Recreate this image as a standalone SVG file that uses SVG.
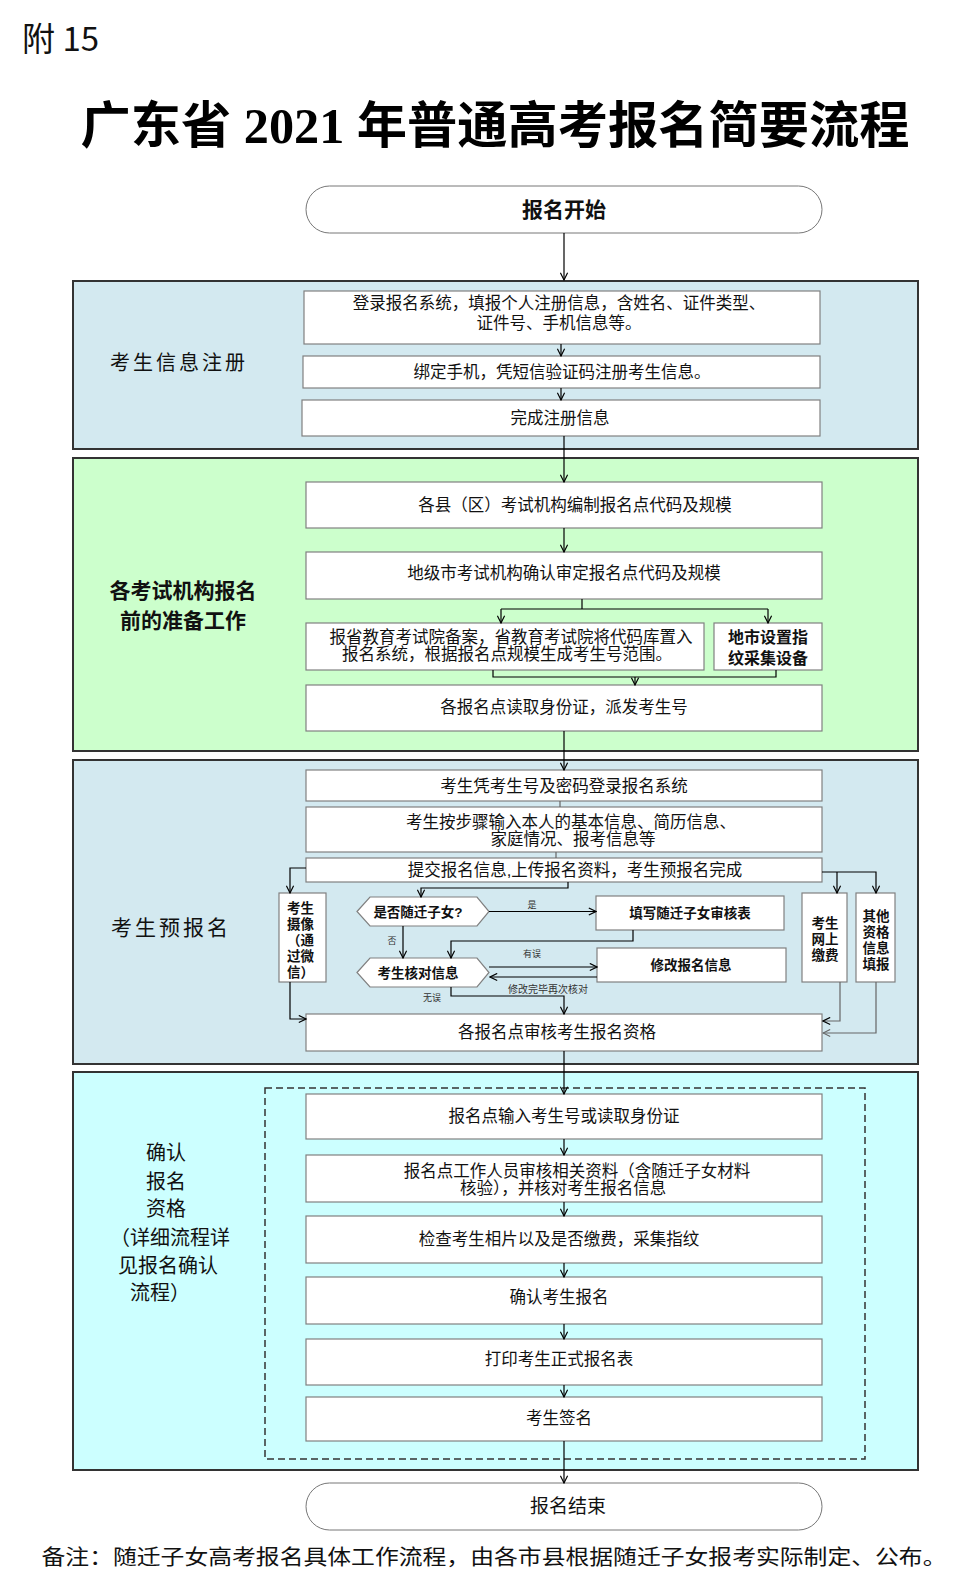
<svg xmlns="http://www.w3.org/2000/svg" width="975" height="1590" viewBox="0 0 975 1590">
<defs>
<marker id="arr" viewBox="0 0 10 10" refX="9" refY="5" markerWidth="9" markerHeight="9" markerUnits="userSpaceOnUse" orient="auto"><path d="M1,1 L9,5 L1,9" fill="none" stroke="#000" stroke-width="1.3"/></marker>
<marker id="arrg" viewBox="0 0 10 10" refX="9" refY="5" markerWidth="9" markerHeight="9" markerUnits="userSpaceOnUse" orient="auto"><path d="M1,1 L9,5 L1,9" fill="none" stroke="#666" stroke-width="1.2"/></marker>
<style>
text{font-family:"Liberation Sans","Noto Sans CJK SC",sans-serif;fill:#111}
.t{font-size:16.5px;text-anchor:middle}
.b{font-size:13.5px;font-weight:bold;text-anchor:middle}
.bl{font-size:13.5px;font-weight:bold}
.lab{font-family:"Noto Sans CJK SC",sans-serif;font-size:20px;text-anchor:middle}
.sm{font-family:"Noto Sans CJK SC",sans-serif;font-size:9px;text-anchor:middle;fill:#333}
.box{fill:#fff;stroke:#808080;stroke-width:1.2}
.sec{stroke:#333;stroke-width:2}
.cap{fill:#fff;stroke:#777;stroke-width:1}
.c{fill:none;stroke:#000;stroke-width:1.2}
.cg{fill:none;stroke:#666;stroke-width:1.2}
.h2{font-family:"Noto Sans CJK SC",sans-serif;font-size:21px;font-weight:bold;text-anchor:middle}
</style>
</defs>
<rect width="975" height="1590" fill="#fff"/>
<text x="22" y="51" style="font-family:'Noto Sans CJK SC',sans-serif;font-size:33px">附 15</text>
<text x="495" y="143" textLength="829" lengthAdjust="spacingAndGlyphs" style="font-family:'Liberation Serif','Noto Sans CJK SC',serif;font-size:50px;font-weight:bold;text-anchor:middle;fill:#000">广东省 2021 年普通高考报名简要流程</text>

<g id="start"><rect class="cap" x="306" y="186" width="516" height="47" rx="23.5"/><text x="564" y="217" style="font-family:'Noto Sans CJK SC',sans-serif;font-size:21px;font-weight:bold;text-anchor:middle">报名开始</text></g>

<g id="sec1"><rect class="sec" x="73" y="281" width="845" height="168" fill="#D3E9F0"/><text class="lab" x="179" y="370" letter-spacing="3">考生信息注册</text></g>
<g id="sec2"><rect class="sec" x="73" y="458" width="845" height="293" fill="#CCFFCC"/><text class="h2" x="183" y="598">各考试机构报名</text><text class="h2" x="183" y="628">前的准备工作</text></g>
<g id="sec3"><rect class="sec" x="73" y="760" width="845" height="304" fill="#D3E9F0"/><text class="lab" x="171" y="935" letter-spacing="3" style="font-size:21px">考生预报名</text></g>
<g id="sec4"><rect class="sec" x="73" y="1072" width="845" height="398" fill="#CCFFFF"/>
<rect x="265" y="1088" width="600" height="371" fill="none" stroke="#333" stroke-width="1.5" stroke-dasharray="7,4"/>
<text class="lab" x="166" y="1160">确认</text><text class="lab" x="166" y="1189">报名</text><text class="lab" x="166" y="1216">资格</text><text class="lab" x="170" y="1245">（详细流程详</text><text class="lab" x="168" y="1273">见报名确认</text><text class="lab" x="160" y="1300">流程）</text></g>

<g id="n1"><rect class="box" x="304" y="291" width="516" height="53"/><text class="t" x="559" y="309">登录报名系统，填报个人注册信息，含姓名、证件类型、</text><text class="t" x="559" y="329">证件号、手机信息等。</text></g>
<g id="n2"><rect class="box" x="303" y="356" width="517" height="32"/><text class="t" x="562" y="378">绑定手机，凭短信验证码注册考生信息。</text></g>
<g id="n3"><rect class="box" x="302" y="400" width="518" height="36"/><text class="t" x="560" y="424">完成注册信息</text></g>

<g id="n4"><rect class="box" x="306" y="482" width="516" height="46"/><text class="t" x="575" y="511">各县（区）考试机构编制报名点代码及规模</text></g>
<g id="n5"><rect class="box" x="306" y="552" width="516" height="47"/><text class="t" x="564" y="579">地级市考试机构确认审定报名点代码及规模</text></g>
<g id="n6"><rect class="box" x="306" y="623" width="398" height="47"/><text class="t" x="511" y="643">报省教育考试院备案，省教育考试院将代码库置入</text><text class="t" x="507" y="660">报名系统，根据报名点规模生成考生号范围。</text></g>
<g id="n7"><rect class="box" x="714" y="623" width="108" height="47"/><text x="768" y="643" style="font-family:'Noto Sans CJK SC',sans-serif;font-size:16px;font-weight:bold;text-anchor:middle">地市设置指</text><text x="768" y="664" style="font-family:'Noto Sans CJK SC',sans-serif;font-size:16px;font-weight:bold;text-anchor:middle">纹采集设备</text></g>
<g id="n8"><rect class="box" x="306" y="685" width="516" height="46"/><text class="t" x="564" y="713">各报名点读取身份证，派发考生号</text></g>

<g id="n9"><rect class="box" x="306" y="770" width="516" height="31"/><text class="t" x="564" y="792">考生凭考生号及密码登录报名系统</text></g>
<g id="n10"><rect class="box" x="306" y="807" width="516" height="45"/><text class="t" x="571" y="828">考生按步骤输入本人的基本信息、简历信息、</text><text class="t" x="573" y="845">家庭情况、报考信息等</text></g>
<g id="n11"><rect class="box" x="306" y="858" width="516" height="24"/><text class="t" x="575" y="876">提交报名信息,上传报名资料，考生预报名完成</text></g>
<g id="n12"><rect class="box" x="279" y="893" width="47" height="89"/><text class="bl" x="287" y="913">考生</text><text class="bl" x="287" y="929">摄像</text><text class="bl" x="287" y="945">（通</text><text class="bl" x="287" y="961">过微</text><text class="bl" x="287" y="977">信）</text></g>
<g id="n13"><polygon points="357,911.5 370,897 477,897 489,911.5 477,926 370,926" fill="#fff" stroke="#808080" stroke-width="1.2"/><text class="b" x="418" y="917">是否随迁子女?</text></g>
<g id="n14"><rect class="box" x="596" y="896" width="188" height="34"/><text class="b" x="690" y="918">填写随迁子女审核表</text></g>
<g id="n15"><polygon points="357,972.5 370,958 477,958 489,972.5 477,987 370,987" fill="#fff" stroke="#808080" stroke-width="1.2"/><text class="b" x="418" y="978">考生核对信息</text></g>
<g id="n16"><rect class="box" x="597" y="948" width="189" height="34"/><text class="b" x="691" y="970">修改报名信息</text></g>
<g id="n17"><rect class="box" x="802" y="893" width="45" height="89"/><text class="b" x="825" y="928">考生</text><text class="b" x="825" y="944">网上</text><text class="b" x="825" y="960">缴费</text></g>
<g id="n18"><rect class="box" x="856" y="893" width="39" height="89"/><text class="b" x="876" y="921">其他</text><text class="b" x="876" y="937">资格</text><text class="b" x="876" y="953">信息</text><text class="b" x="876" y="969">填报</text></g>
<g id="n19"><rect class="box" x="306" y="1014" width="516" height="37"/><text class="t" x="557" y="1038">各报名点审核考生报名资格</text></g>

<g id="n20"><rect class="box" x="306" y="1094" width="516" height="45"/><text class="t" x="564" y="1122">报名点输入考生号或读取身份证</text></g>
<g id="n21"><rect class="box" x="306" y="1155" width="516" height="47"/><text class="t" x="577" y="1177">报名点工作人员审核相关资料（含随迁子女材料</text><text class="t" x="563" y="1194">核验），并核对考生报名信息</text></g>
<g id="n22"><rect class="box" x="306" y="1216" width="516" height="47"/><text class="t" x="559" y="1245">检查考生相片以及是否缴费，采集指纹</text></g>
<g id="n23"><rect class="box" x="306" y="1277" width="516" height="47"/><text class="t" x="559" y="1303">确认考生报名</text></g>
<g id="n24"><rect class="box" x="306" y="1339" width="516" height="46"/><text class="t" x="559" y="1365">打印考生正式报名表</text></g>
<g id="n25"><rect class="box" x="306" y="1397" width="516" height="44"/><text class="t" x="559" y="1424">考生签名</text></g>

<g id="end"><rect class="cap" x="306" y="1483" width="516" height="47" rx="23.5"/><text x="568" y="1513" style="font-family:'Noto Sans CJK SC',sans-serif;font-size:19px;text-anchor:middle">报名结束</text></g>

<g id="connectors">
<path class="c" d="M564,233 V280" marker-end="url(#arr)"/>
<path class="c" d="M561,344 V356" marker-end="url(#arr)"/>
<path class="c" d="M561,388 V400" marker-end="url(#arr)"/>
<path class="c" d="M564,436 V482" marker-end="url(#arr)"/>
<path class="c" d="M564,528 V552" marker-end="url(#arr)"/>
<path class="c" d="M582,599 V609 M501,609 H768"/>
<path class="c" d="M501,609 V623" marker-end="url(#arr)"/>
<path class="c" d="M768,609 V623" marker-end="url(#arr)"/>
<path class="c" d="M493,670 V677 H776 V670"/>
<path class="c" d="M635,677 V685" marker-end="url(#arr)"/>
<path class="c" d="M564,731 V770" marker-end="url(#arr)"/>
<path class="cg" d="M560,801 V807 M556,852 V858"/>
<path class="c" d="M306,868 H290 V893" marker-end="url(#arr)"/>
<path class="c" d="M568,882 V888 H421 V897" marker-end="url(#arr)"/>
<path class="c" d="M822,872 H876 V893" marker-end="url(#arr)"/>
<path class="c" d="M837,872 V893" marker-end="url(#arr)"/>
<path class="c" d="M489,911.5 H596" marker-end="url(#arr)"/>
<path class="c" d="M403,926 V958" marker-end="url(#arr)"/>
<path class="c" d="M633,930 V941 H451 V958" marker-end="url(#arr)"/>
<path class="c" d="M489,967 H597" marker-end="url(#arr)"/>
<path class="c" d="M597,977 H490" marker-end="url(#arr)"/>
<path class="c" d="M451,987 V996 H564 V1014" marker-end="url(#arr)"/>
<path class="c" d="M290,982 V1019 H306" marker-end="url(#arr)"/>
<path class="cg" d="M840,982 V1021 H823" marker-end="url(#arr)"/>
<path class="cg" d="M876,982 V1033 H823" marker-end="url(#arrg)"/>
<path class="c" d="M564,1051 V1094" marker-end="url(#arr)"/>
<path class="c" d="M564,1139 V1155" marker-end="url(#arr)"/>
<path class="c" d="M564,1202 V1216" marker-end="url(#arr)"/>
<path class="c" d="M564,1263 V1277" marker-end="url(#arr)"/>
<path class="c" d="M564,1324 V1339" marker-end="url(#arr)"/>
<path class="c" d="M564,1385 V1397" marker-end="url(#arr)"/>
<path class="c" d="M564,1441 V1483" marker-end="url(#arr)"/>
<text class="sm" x="532" y="908">是</text>
<text class="sm" x="392" y="944">否</text>
<text class="sm" x="532" y="957">有误</text>
<text class="sm" x="432" y="1001">无误</text>
<text x="548" y="993" style="font-family:'Noto Sans CJK SC',sans-serif;font-size:10px;text-anchor:middle;fill:#333">修改完毕再次核对</text>
</g>

<text x="494" y="1564" textLength="905" lengthAdjust="spacingAndGlyphs" style="font-family:'Noto Sans CJK SC',sans-serif;font-size:21px;text-anchor:middle">备注：随迁子女高考报名具体工作流程，由各市县根据随迁子女报考实际制定、公布。</text>
</svg>
